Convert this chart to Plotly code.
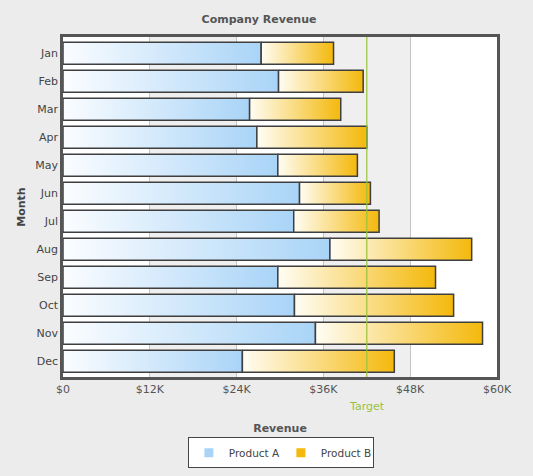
import plotly.graph_objects as go

# dati (migliaia di $)
mesi = ["Jan", "Feb", "Mar", "Apr", "May", "Jun", "Jul", "Aug", "Sep", "Oct", "Nov", "Dec"]
product_a = [27.4, 29.8, 25.8, 26.8, 29.7, 32.7, 31.9, 36.9, 29.7, 32.0, 34.9, 24.8]
product_b = [10.0, 11.7, 12.6, 15.2, 11.0, 9.8, 11.8, 19.6, 21.8, 22.0, 23.1, 21.0]
target = 42
tick_vals = [0, 12, 24, 36, 48, 60]
tick_text = ["$0", "$12K", "$24K", "$36K", "$48K", "$60K"]

font_fam = "DejaVu Sans, Verdana, sans-serif"
col_a = "#a9d4f7"
col_b = "#f4b90c"
half = 0.393  # metà altezza barra

fig = go.Figure()

# bande del fondo (alternate sulle tacche)
for k in range(1, len(tick_vals) - 1, 2):
    fig.add_shape(type="rect", xref="x", yref="paper", x0=tick_vals[k], x1=tick_vals[k + 1],
                  y0=0, y1=1, fillcolor="#efefef", line_width=0, layer="below")

# barre con gradiente: un poligono per segmento
for i, m in enumerate(mesi):
    segmenti = [(0, product_a[i], "#fbfdff", col_a, "Product A", product_a[i]),
                (product_a[i], product_a[i] + product_b[i], "#fffdf4", col_b, "Product B", product_b[i])]
    for x0, x1, c0, c1, nome, val in segmenti:
        fig.add_trace(go.Scatter(
            x=[x0, x1, x1, x0, x0], y=[i - half, i - half, i + half, i + half, i - half],
            mode="lines", fill="toself",
            fillgradient=dict(type="horizontal", colorscale=[[0, c0], [1, c1]]),
            line=dict(color="#3f3f3f", width=1.5),
            showlegend=False, hoveron="fills",
            name=nome, text=f"{m}, {nome}: ${val}K", hoverinfo="text"))

# voci della legenda
for nome, c in [("Product A", col_a), ("Product B", col_b)]:
    fig.add_trace(go.Scatter(x=[None], y=[None], mode="markers", name=nome,
                             marker=dict(symbol="square", size=9, color=c)))

# linea obiettivo
fig.add_shape(type="line", xref="x", yref="paper", x0=target, x1=target, y0=0, y1=1,
              line=dict(color="#99c23a", width=1.2))
fig.add_annotation(x=target, xref="x", y=-0.088, yref="paper", yanchor="middle", text="Target",
                   showarrow=False, font=dict(family=font_fam, size=11, color="#99c23a"))

fig.update_xaxes(range=[0, 60], tickvals=tick_vals, ticktext=tick_text,
                 showgrid=True, gridcolor="#c4c4c4", gridwidth=1, zeroline=False,
                 showline=True, mirror=True, linecolor="#555555", linewidth=2.5,
                 tickfont=dict(family=font_fam, size=11, color="#555555"), ticks="",
                 ticklabelstandoff=0, automargin=False,
                 title=dict(text="<b>Revenue</b>", font=dict(family=font_fam, size=11, color="#555555"), standoff=30))
fig.update_yaxes(range=[11.56, -0.58], tickvals=list(range(len(mesi))), ticktext=mesi,
                 showgrid=False, zeroline=False,
                 showline=True, mirror=True, linecolor="#555555", linewidth=2.5,
                 tickfont=dict(family=font_fam, size=11, color="#444444"), ticks="",
                 automargin=False,
                 title=dict(text="<b>Month</b>", font=dict(family=font_fam, size=11, color="#444444"), standoff=8))

fig.update_layout(
    width=533, height=476,
    margin=dict(l=63, r=36, t=37, b=99, autoexpand=False),
    paper_bgcolor="#ececec", plot_bgcolor="#ffffff",
    title=dict(text="<b>Company Revenue</b>", x=0.486, xanchor="center", y=0.96, yanchor="middle",
               font=dict(family=font_fam, size=11, color="#555555")),
    legend=dict(orientation="h", x=0.502, xanchor="center", y=-0.177, yanchor="top",
                bgcolor="#ffffff", bordercolor="#444444", borderwidth=1, entrywidth=47,
                itemwidth=30, tracegroupgap=0,
                font=dict(family=font_fam, size=10.5, color="#444444")),
    hovermode="closest",
)

# niente margine del body, il grafico parte da (0,0)
fig.write_html("out.html", config={"displayModeBar": False},
               post_script="document.body.style.margin='0';")
